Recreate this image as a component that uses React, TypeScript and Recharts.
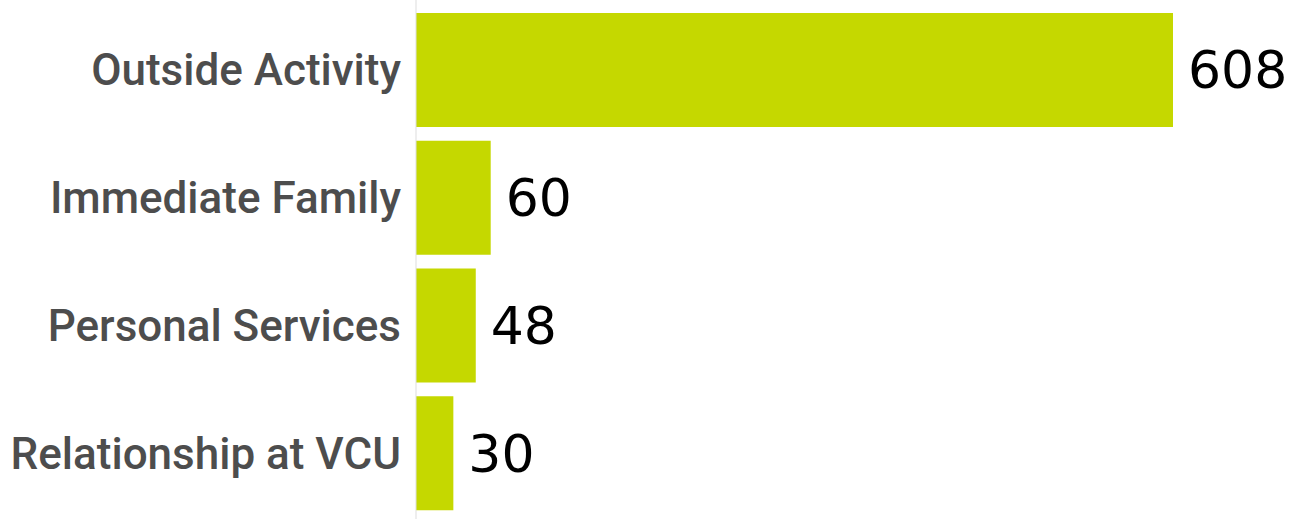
import { BarChart, Bar, XAxis, YAxis, LabelList } from 'recharts'

const categories = ['Outside Activity', 'Immediate Family', 'Personal Services', 'Relationship at VCU']
const counts = [608, 60, 48, 30]

const data = categories.map((name, i) => ({ name, count: counts[i] }))

export default function App() {
  return (
    <div style={{ position: 'absolute', left: 0, top: 0, background: '#fff' }}>
      <BarChart
        width={1296}
        height={519}
        data={data}
        layout="vertical"
        margin={{ top: 0, right: 123, bottom: 0, left: 0 }}
      >
        <XAxis type="number" domain={[0, 608]} hide />
        <YAxis
          type="category"
          dataKey="name"
          width={416}
          padding={{ top: 6, bottom: 2 }}
          axisLine={{ stroke: '#dddddd' }}
          tickLine={false}
          tickSize={0}
          tickMargin={15}
          tick={{ fill: '#4d4d4d', fontSize: 44, fontWeight: 500, fontFamily: 'Roboto' }}
        />
        <Bar dataKey="count" fill="#c5d800" barSize={114} isAnimationActive={false}>
          <LabelList
            dataKey="count"
            position="right"
            offset={15}
            style={{ fill: '#000', fontSize: 52, fontFamily: 'DejaVu Sans' }}
          />
        </Bar>
      </BarChart>
    </div>
  )
}
